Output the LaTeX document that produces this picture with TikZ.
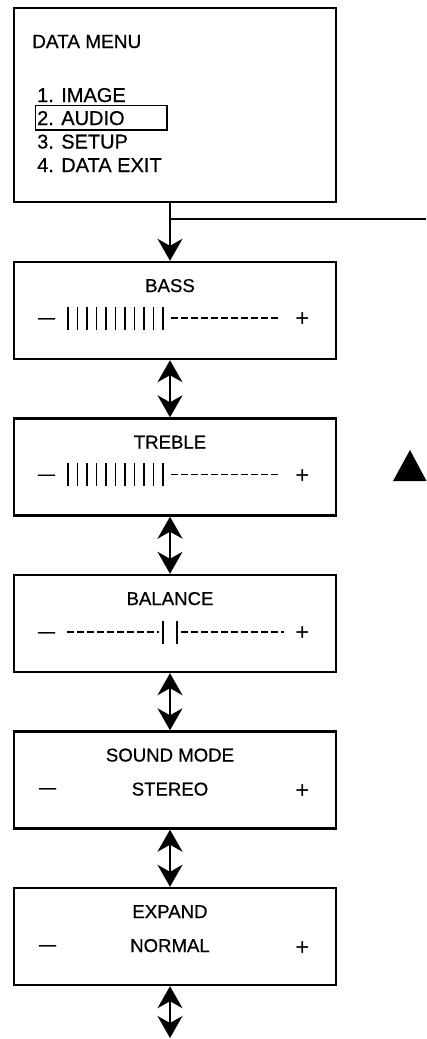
\documentclass[tikz,border=0pt]{standalone}
\usepackage{fontspec}
\setmainfont{Liberation Sans}[BoldFont=Liberation Sans, BoldFeatures={FakeBold=0.6}]
\usetikzlibrary{arrows.meta,positioning}

\begin{document}
\begin{tikzpicture}[x=1pt, y=-1pt,
  panel/.style={draw, line width=2.4pt, minimum width=322pt, inner sep=0pt},
  heading/.style={font=\fontsize{18.6}{22}\selectfont\bfseries, anchor=base, inner sep=0pt},
  item/.style={font=\fontsize{20}{24}\selectfont\bfseries, anchor=base west, inner sep=0pt},
  minus/.style={font=\fontsize{17}{20}\selectfont\bfseries, anchor=base, inner sep=0pt},
  plus/.style={font=\fontsize{24}{28}\selectfont, anchor=base, inner sep=0pt},
  level/.style={line width=1.5pt},
  dots/.style={line width=1.9pt, dash pattern=on 6.5pt off 3.5pt},
  link/.style={line width=1.7pt},
  arrow/.style={link, -{Stealth[length=22pt, width=25pt, inset=7pt]}},
  both/.style={link, {Stealth[length=22pt, width=25pt, inset=7pt]}-{Stealth[length=22pt, width=25pt, inset=7pt]}}
]
  \fill[white] (0,0) rectangle (426,1039);
  \useasboundingbox (0,0) rectangle (426,1039);

  % menu screen
  \node[panel, minimum height=194pt] (menu) at (175,105) {};
  \node[item, font=\fontsize{19}{23}\selectfont\bfseries] (menuT) at (32,48) {DATA MENU};
  \node[item] (image) at (37,102) {1. IMAGE};
  \node[item] (audio) at (37,125) {2. AUDIO};
  \node[item] (setup) at (37,148.5) {3. SETUP};
  \node[item] (exit)  at (37,172) {4. DATA EXIT};
  \draw[line width=1.2pt] (35.5,105.5) rectangle (167,130);

  % audio screens
  \node[panel, minimum height=97pt] (bass)    at (175,310.5) {};
  \node[panel, minimum height=97pt] (treble)  at (175,467) {};
  \node[panel, minimum height=97pt] (balance) at (175,623.5) {};
  \node[panel, minimum height=97pt] (sound)   at (175,780) {};
  \node[panel, minimum height=97pt] (expand)  at (175,936.5) {};

  \node[heading] (bassT)    at (170,292)   {BASS};
  \node[heading] (trebleT)  at (170,448.5) {TREBLE};
  \node[heading] (balanceT) at (170,605)   {BALANCE};
  \node[heading] (soundT)   at (170,761.5) {SOUND MODE};
  \node[heading] (expandT)  at (170,918)   {EXPAND};
  \node[heading] (stereo)   at (170,795.5) {STEREO};
  \node[heading] (normal)   at (170,952)   {NORMAL};

  % minus / plus
  \node[minus] (bassM)    at (46.5,323)   {—};
  \node[minus] (trebleM)  at (46.5,479.5) {—};
  \node[minus] (balanceM) at (46.5,637)   {—};
  \node[minus] (soundM)   at (47.5,793)   {—};
  \node[minus] (expandM)  at (47.5,950)   {—};
  \node[plus] (bassP)    at (302.5,326.4) {+};
  \node[plus] (trebleP)  at (302.5,483)   {+};
  \node[plus] (balanceP) at (302.5,640.4) {+};
  \node[plus] (soundP)   at (302.5,798.4) {+};
  \node[plus] (expandP)  at (302.5,955.4) {+};

  % level bars
  \foreach \i in {0,...,10} {
    \draw[level] (68+9.5*\i,306.5) -- ++(0,23);
    \draw[level] (68+9.5*\i,463) -- ++(0,23);
  }
  \draw[dots] (171,318) -- (280,318);
  \draw[dots] (171,474.5) -- (280,474.5);
  \draw[dots] (67,632) -- (159,632);
  \draw[level] (163,620.5) -- ++(0,23);
  \draw[level] (177,620.5) -- ++(0,23);
  \draw[dots] (181,632) -- (284,632);

  % connectors
  \coordinate (branch) at (426,219);
  \coordinate (more) at (170,1038);
  \draw[arrow] (bassT |- menu.south) -- (bassT |- bass.north);
  \draw[link] (bassT |- branch) -- (branch);
  \draw[both] (bassT |- bass.south) -- (bassT |- treble.north);
  \draw[both] (bassT |- treble.south) -- (bassT |- balance.north);
  \draw[both] (bassT |- balance.south) -- (bassT |- sound.north);
  \draw[both] (bassT |- sound.south) -- (bassT |- expand.north);
  \draw[both] (bassT |- expand.south) -- (more);

  % marker
  \fill (410,450) -- (426.5,481) -- (393,481) -- cycle;
\end{tikzpicture}
\end{document}
